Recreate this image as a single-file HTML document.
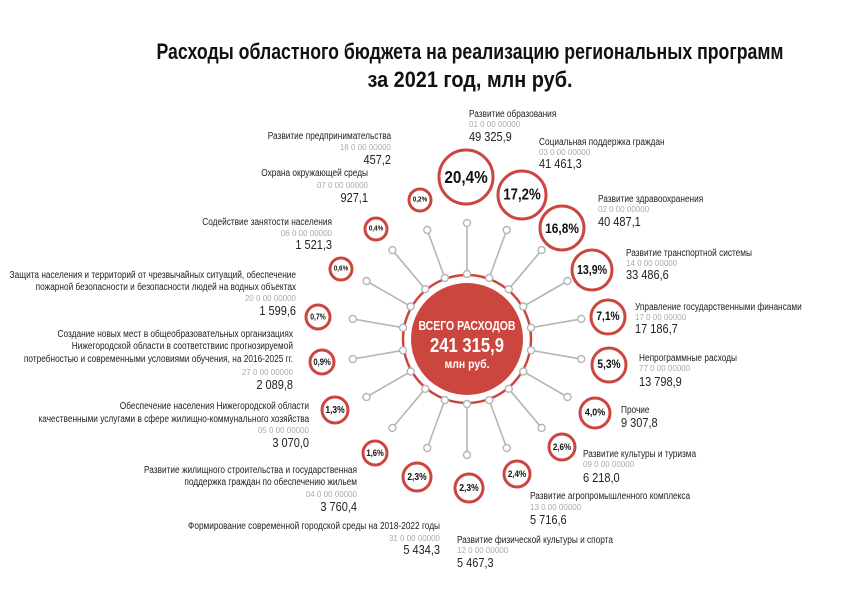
<!DOCTYPE html>
<html><head><meta charset="utf-8"><style>
html,body{margin:0;padding:0;background:#fff;width:843px;height:596px;overflow:hidden}
svg{display:block;font-family:"Liberation Sans",sans-serif}
text{transform-box:fill-box}
.n{font-size:10px;fill:#222;transform:scaleX(.83);transform-origin:left center}
.c{font-size:8px;fill:#aaa}
.v{font-size:12.5px;fill:#222;transform:scaleX(.88);transform-origin:left center}
.e .n,.e .v{transform-origin:right center}
.p{font-weight:bold;fill:#111;text-anchor:middle;dominant-baseline:central;transform:scaleX(.85);transform-origin:center}
.l{stroke:#b5b5b5;stroke-width:1.6}
.d{fill:#fff;stroke:#b5b5b5;stroke-width:1.4}
.k{fill:#fff;stroke:#cc4640;stroke-width:3}
</style></head><body>
<svg width="843" height="596" viewBox="0 0 843 596">
<text x="470" y="59" text-anchor="middle" font-size="22" font-weight="bold" fill="#111" textLength="627" lengthAdjust="spacingAndGlyphs">Расходы областного бюджета на реализацию региональных программ</text>
<text x="470" y="87" text-anchor="middle" font-size="22" font-weight="bold" fill="#111" textLength="205" lengthAdjust="spacingAndGlyphs">за 2021 год, млн руб.</text>

<g>
<line class="l" x1="467" y1="274" x2="467" y2="223"/>
<line class="l" x1="489.2" y1="277.9" x2="506.7" y2="230"/>
<line class="l" x1="508.8" y1="289.2" x2="541.6" y2="250.1"/>
<line class="l" x1="523.3" y1="306.5" x2="567.5" y2="281"/>
<line class="l" x1="531" y1="327.7" x2="581.2" y2="318.9"/>
<line class="l" x1="531" y1="350.3" x2="581.2" y2="359.1"/>
<line class="l" x1="523.3" y1="371.5" x2="567.5" y2="397"/>
<line class="l" x1="508.8" y1="388.8" x2="541.6" y2="427.9"/>
<line class="l" x1="489.2" y1="400.1" x2="506.7" y2="448"/>
<line class="l" x1="467" y1="404" x2="467" y2="455"/>
<line class="l" x1="444.8" y1="400.1" x2="427.3" y2="448"/>
<line class="l" x1="425.2" y1="388.8" x2="392.4" y2="427.9"/>
<line class="l" x1="410.7" y1="371.5" x2="366.5" y2="397"/>
<line class="l" x1="403" y1="350.3" x2="352.8" y2="359.1"/>
<line class="l" x1="403" y1="327.7" x2="352.8" y2="318.9"/>
<line class="l" x1="410.7" y1="306.5" x2="366.5" y2="281"/>
<line class="l" x1="425.2" y1="289.2" x2="392.4" y2="250.1"/>
<line class="l" x1="444.8" y1="277.9" x2="427.3" y2="230"/>
</g>
<circle cx="467" cy="339" r="64" fill="#fff" stroke="#cc4640" stroke-width="2.5"/>
<circle cx="467" cy="339" r="56" fill="#cc4640"/>
<g>
<circle class="d" cx="467" cy="274" r="3.5"/><circle class="d" cx="467" cy="223" r="3.5"/>
<circle class="d" cx="489.2" cy="277.9" r="3.5"/><circle class="d" cx="506.7" cy="230" r="3.5"/>
<circle class="d" cx="508.8" cy="289.2" r="3.5"/><circle class="d" cx="541.6" cy="250.1" r="3.5"/>
<circle class="d" cx="523.3" cy="306.5" r="3.5"/><circle class="d" cx="567.5" cy="281" r="3.5"/>
<circle class="d" cx="531" cy="327.7" r="3.5"/><circle class="d" cx="581.2" cy="318.9" r="3.5"/>
<circle class="d" cx="531" cy="350.3" r="3.5"/><circle class="d" cx="581.2" cy="359.1" r="3.5"/>
<circle class="d" cx="523.3" cy="371.5" r="3.5"/><circle class="d" cx="567.5" cy="397" r="3.5"/>
<circle class="d" cx="508.8" cy="388.8" r="3.5"/><circle class="d" cx="541.6" cy="427.9" r="3.5"/>
<circle class="d" cx="489.2" cy="400.1" r="3.5"/><circle class="d" cx="506.7" cy="448" r="3.5"/>
<circle class="d" cx="467" cy="404" r="3.5"/><circle class="d" cx="467" cy="455" r="3.5"/>
<circle class="d" cx="444.8" cy="400.1" r="3.5"/><circle class="d" cx="427.3" cy="448" r="3.5"/>
<circle class="d" cx="425.2" cy="388.8" r="3.5"/><circle class="d" cx="392.4" cy="427.9" r="3.5"/>
<circle class="d" cx="410.7" cy="371.5" r="3.5"/><circle class="d" cx="366.5" cy="397" r="3.5"/>
<circle class="d" cx="403" cy="350.3" r="3.5"/><circle class="d" cx="352.8" cy="359.1" r="3.5"/>
<circle class="d" cx="403" cy="327.7" r="3.5"/><circle class="d" cx="352.8" cy="318.9" r="3.5"/>
<circle class="d" cx="410.7" cy="306.5" r="3.5"/><circle class="d" cx="366.5" cy="281" r="3.5"/>
<circle class="d" cx="425.2" cy="289.2" r="3.5"/><circle class="d" cx="392.4" cy="250.1" r="3.5"/>
<circle class="d" cx="444.8" cy="277.9" r="3.5"/><circle class="d" cx="427.3" cy="230" r="3.5"/>
</g>
<text x="467" y="330" text-anchor="middle" font-size="13" font-weight="bold" fill="#fff" textLength="97" lengthAdjust="spacingAndGlyphs">ВСЕГО РАСХОДОВ</text>
<text x="467" y="352" text-anchor="middle" font-size="20" font-weight="bold" fill="#fff" textLength="74" lengthAdjust="spacingAndGlyphs">241 315,9</text>
<text x="467" y="368" text-anchor="middle" font-size="12" font-weight="bold" fill="#fff" textLength="45" lengthAdjust="spacingAndGlyphs">млн руб.</text>

<g>
<circle class="k" cx="466" cy="177" r="27"/><text class="p" x="466" y="177" font-size="18">20,4%</text>
<circle class="k" cx="522" cy="195" r="24"/><text class="p" x="522" y="195" font-size="15.5">17,2%</text>
<circle class="k" cx="562" cy="228" r="22"/><text class="p" x="562" y="228" font-size="14">16,8%</text>
<circle class="k" cx="592" cy="270" r="20"/><text class="p" x="592" y="270" font-size="12.5">13,9%</text>
<circle class="k" cx="608" cy="317" r="17"/><text class="p" x="608" y="317" font-size="12">7,1%</text>
<circle class="k" cx="609" cy="365" r="17"/><text class="p" x="609" y="365" font-size="12">5,3%</text>
<circle class="k" cx="595" cy="413" r="15"/><text class="p" x="595" y="413" font-size="10.5">4,0%</text>
<circle class="k" cx="562" cy="447" r="13"/><text class="p" x="562" y="447" font-size="9.5">2,6%</text>
<circle class="k" cx="517" cy="474" r="13"/><text class="p" x="517" y="474" font-size="9.5">2,4%</text>
<circle class="k" cx="469" cy="488" r="14"/><text class="p" x="469" y="488" font-size="10">2,3%</text>
<circle class="k" cx="417" cy="477" r="14"/><text class="p" x="417" y="477" font-size="10">2,3%</text>
<circle class="k" cx="375" cy="453" r="12"/><text class="p" x="375" y="453" font-size="9">1,6%</text>
<circle class="k" cx="335" cy="410" r="13"/><text class="p" x="335" y="410" font-size="10">1,3%</text>
<circle class="k" cx="322" cy="362" r="12"/><text class="p" x="322" y="362" font-size="9">0,9%</text>
<circle class="k" cx="318" cy="317" r="12"/><text class="p" x="318" y="317" font-size="8">0,7%</text>
<circle class="k" cx="341" cy="269" r="11"/><text class="p" x="341" y="269" font-size="7.5">0,6%</text>
<circle class="k" cx="376" cy="229" r="11"/><text class="p" x="376" y="229" font-size="7.5">0,4%</text>
<circle class="k" cx="420" cy="200" r="11"/><text class="p" x="420" y="200" font-size="7.5">0,2%</text>
</g>

<g>
<text class="n" x="469" y="117">Развитие образования</text><text class="c" x="469" y="127">01 0 00 00000</text><text class="v" x="469" y="141">49 325,9</text>
<text class="n" x="539" y="145">Социальная поддержка граждан</text><text class="c" x="539" y="155">03 0 00 00000</text><text class="v" x="539" y="168">41 461,3</text>
<text class="n" x="598" y="202">Развитие здравоохранения</text><text class="c" x="598" y="212">02 0 00 00000</text><text class="v" x="598" y="226">40 487,1</text>
<text class="n" x="626" y="256">Развитие транспортной системы</text><text class="c" x="626" y="266">14 0 00 00000</text><text class="v" x="626" y="279">33 486,6</text>
<text class="n" x="635" y="310">Управление государственными финансами</text><text class="c" x="635" y="320">17 0 00 00000</text><text class="v" x="635" y="333">17 186,7</text>
<text class="n" x="639" y="361">Непрограммные расходы</text><text class="c" x="639" y="371">77 0 00 00000</text><text class="v" x="639" y="386">13 798,9</text>
<text class="n" x="621" y="413">Прочие</text><text class="v" x="621" y="427">9 307,8</text>
<text class="n" x="583" y="457">Развитие культуры и туризма</text><text class="c" x="583" y="467">09 0 00 00000</text><text class="v" x="583" y="482">6 218,0</text>
<text class="n" x="530" y="499">Развитие агропромышленного комплекса</text><text class="c" x="530" y="510">13 0 00 00000</text><text class="v" x="530" y="524">5 716,6</text>
<text class="n" x="457" y="543">Развитие физической культуры и спорта</text><text class="c" x="457" y="553">12 0 00 00000</text><text class="v" x="457" y="567">5 467,3</text>
</g>
<g class="e" text-anchor="end">
<text class="n" x="391" y="139">Развитие предпринимательства</text><text class="c" x="391" y="150">18 0 00 00000</text><text class="v" x="391" y="164">457,2</text>
<text class="n" x="368" y="176">Охрана окружающей среды</text><text class="c" x="368" y="188">07 0 00 00000</text><text class="v" x="368" y="202">927,1</text>
<text class="n" x="332" y="225">Содействие занятости населения</text><text class="c" x="332" y="236">06 0 00 00000</text><text class="v" x="332" y="249">1 521,3</text>
<text class="n" x="296" y="278">Защита населения и территорий от чрезвычайных ситуаций, обеспечение</text><text class="n" x="296" y="290">пожарной безопасности и безопасности людей на водных объектах</text><text class="c" x="296" y="301">20 0 00 00000</text><text class="v" x="296" y="315">1 599,6</text>
<text class="n" x="293" y="337">Создание новых мест в общеобразовательных организациях</text><text class="n" x="293" y="349">Нижегородской области в соответствиис прогнозируемой</text><text class="n" x="293" y="362">потребностью и современными условиями обучения, на 2016-2025 гг.</text><text class="c" x="293" y="375">27 0 00 00000</text><text class="v" x="293" y="389">2 089,8</text>
<text class="n" x="309" y="409">Обеспечение населения Нижегородской области</text><text class="n" x="309" y="422">качественными услугами в сфере жилищно-коммунального хозяйства</text><text class="c" x="309" y="433">05 0 00 00000</text><text class="v" x="309" y="447">3 070,0</text>
<text class="n" x="357" y="473">Развитие жилищного строительства и государственная</text><text class="n" x="357" y="485">поддержка граждан по обеспечению жильем</text><text class="c" x="357" y="497">04 0 00 00000</text><text class="v" x="357" y="511">3 760,4</text>
<text class="n" x="440" y="529">Формирование современной городской среды на 2018-2022 годы</text><text class="c" x="440" y="541">31 0 00 00000</text><text class="v" x="440" y="554">5 434,3</text>
</g>
</svg>
</body></html>
